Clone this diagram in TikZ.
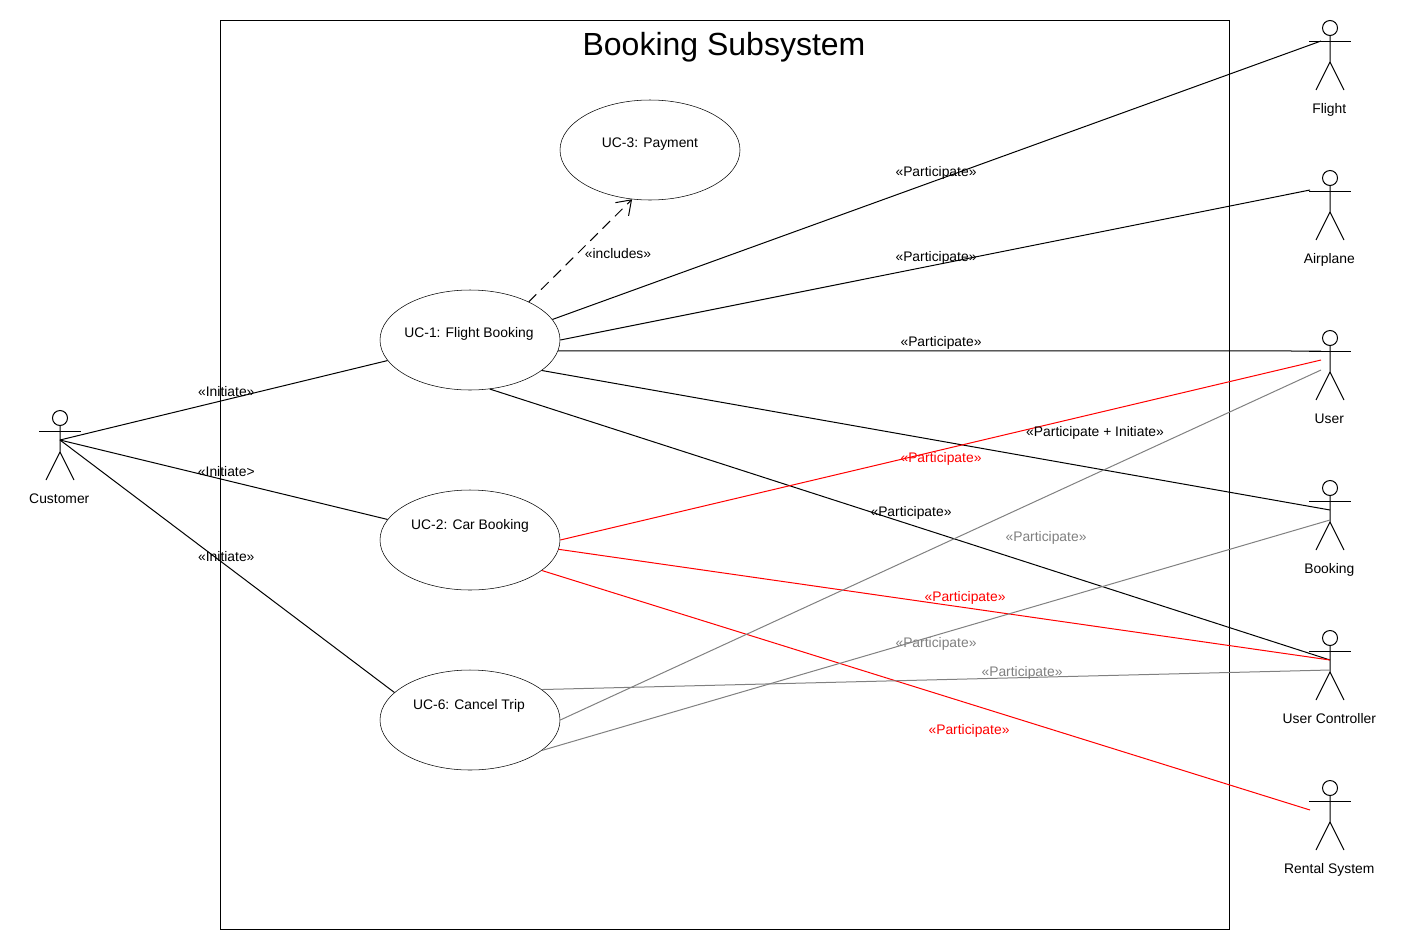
\documentclass[tikz,border=0pt]{standalone}
\usepackage{fontspec}
\setmainfont{Liberation Sans}
\usetikzlibrary{shapes.geometric,arrows.meta}
\definecolor{partgray}{RGB}{128,128,128}
\tikzset{
  usecase/.style={draw,ellipse,minimum width=135pt,minimum height=75pt,inner sep=0pt},
  txt/.style={inner sep=0pt,font=\fontsize{10.4pt}{12pt}\selectfont},
  link/.style={line width=0.75pt},
  redlink/.style={link,color=red},
  graylink/.style={link,color=partgray},
}
% stick figure: #1 name, (#2,#3) top of the head, #4 text
\newcommand{\umlactor}[4]{
  \draw [link] (#2,#3+8) circle [radius=7.5];
  \draw [link] (#2,#3+16) -- (#2,#3+42) -- (#2-14,#3+70);
  \draw [link] (#2,#3+42) -- (#2+14,#3+70);
  \draw [link] (#2-21,#3+21) -- (#2+21,#3+21);
  \node [txt,anchor=base] (#1) at (#2-0.7,#3+93) {#4};
}
\begin{document}
\begin{tikzpicture}[x=0.75pt,y=0.75pt,yscale=-1,xscale=1]
\useasboundingbox (0,0) rectangle (1410,950);

%Shape: Rectangle
\node [draw,line width=0.75pt,minimum width=756.75pt,minimum height=681.75pt,inner sep=0pt] (subsystem) at (725,474.7) {};
% Text Node
\node [inner sep=0pt,font=\fontsize{24pt}{28pt}\selectfont] (title) at (724,47) {Booking Subsystem};

%Shape: Ellipse
\node [usecase] (uc3) at (650,150) {};
\node [usecase] (uc1) at (470,340) {};
\node [usecase] (uc2) at (470,540) {};
\node [usecase] (uc6) at (470,720) {};
% Text Node
\node [txt] (uc3text) at (650,144) {UC-3: Payment};
\node [txt] (uc1text) at (469,334) {UC-1: Flight Booking};
\node [txt] (uc2text) at (470,526) {UC-2: Car Booking};
\node [txt] (uc6text) at (469,706) {UC-6: Cancel Trip};

%Actors
\umlactor{customer}{60}{410}{Customer}
\umlactor{flight}{1330}{20}{Flight}
\umlactor{airplane}{1330}{170}{Airplane}
\umlactor{user}{1330}{330}{User}
\umlactor{booking}{1330}{480}{Booking}
\umlactor{controller}{1330}{630}{User Controller}
\umlactor{rental}{1330}{780}{Rental System}

%Line ends at the actors
\coordinate (customerEnd) at (60,440);
\coordinate (flightEnd) at (1321,41);
\coordinate (airplaneEnd) at (1310,190);
\coordinate (userEnd) at (1321,351);
\coordinate (userRedEnd) at (1321,360);
\coordinate (userGrayEnd) at (1321,370);
\coordinate (bookingEnd) at (1330,510);
\coordinate (bookingGrayEnd) at (1330,520);
\coordinate (controllerEnd) at (1330,660);
\coordinate (controllerGrayEnd) at (1330,670);
\coordinate (rentalEnd) at (1310,810);

%Straight Lines
\draw [link] (customerEnd) -- (uc1.194);
\draw [link] (customerEnd) -- (uc2.166);
\draw [link] (customerEnd) -- (uc6.160);
\draw [link,dashed,dash pattern=on 8pt off 5pt,-{Straight Barb[length=10pt,width=14pt,line width=0.75pt]}] (uc1.33) -- (uc3.250);
\draw [link] (uc1.14) -- (flightEnd);
\draw [link] (uc1.east) -- (airplaneEnd);
\draw [link] (uc1.-7) -- (userEnd);
\draw [link] (uc1.-23) -- (bookingEnd);
\draw [link] (uc1.-68) -- (controllerEnd);
\draw [redlink] (uc2.east) -- (userRedEnd);
\draw [redlink] (uc2.-6) -- (controllerEnd);
\draw [redlink] (uc2.-23) -- (rentalEnd);
\draw [graylink] (uc6.east) -- (userGrayEnd);
\draw [graylink] (uc6.-23) -- (bookingGrayEnd);
\draw [graylink] (uc6.23) -- (controllerGrayEnd);

% Text Node
\node [txt] (includes) at (618,253.7) {«includes»};
\node [txt] (init1) at (226.3,391.7) {«Initiate»};
\node [txt] (init2) at (226.3,471.7) {«Initiate>};
\node [txt] (init3) at (226.3,556.7) {«Initiate»};
\node [txt] (part1) at (936,173) {«Participate»};
\node [txt] (part2) at (936,258) {«Participate»};
\node [txt] (part3) at (941,343) {«Participate»};
\node [txt] (part4) at (1095,433) {«Participate + Initiate»};
\node [txt] (part5) at (911,513) {«Participate»};
\node [txt,text=red] (part6) at (941,459) {«Participate»};
\node [txt,text=red] (part7) at (965,598) {«Participate»};
\node [txt,text=red] (part8) at (969,731) {«Participate»};
\node [txt,text=partgray] (part9) at (1046,538) {«Participate»};
\node [txt,text=partgray] (part10) at (936,644) {«Participate»};
\node [txt,text=partgray] (part11) at (1022,673) {«Participate»};

\end{tikzpicture}
\end{document}
